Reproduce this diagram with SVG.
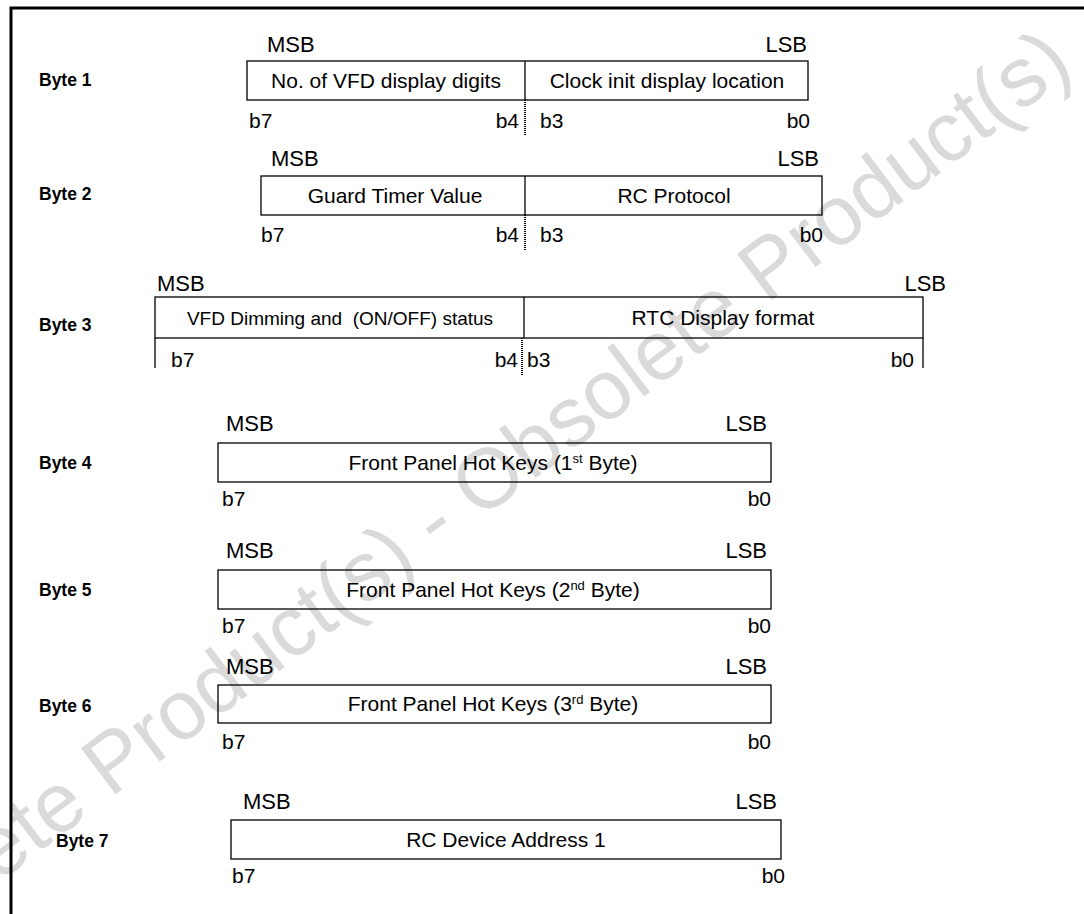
<svg xmlns="http://www.w3.org/2000/svg" width="1084" height="914" viewBox="0 0 1084 914">
<style>
.t{font-family:"Liberation Sans",Arial,sans-serif;fill:#000}
.lbl{font-size:22px}
.bit{font-size:21px}
.box{font-size:21px}
.byte{font-size:17.5px;font-weight:bold}
.r{fill:none;stroke:#000;stroke-width:1.3}
.dv{stroke:#000;stroke-width:1.3}
.dot{stroke:#000;stroke-width:2;stroke-dasharray:1 1}
.wm{font-family:"Liberation Sans",Arial,sans-serif;font-size:84px;fill:#dadada}
</style>
<rect width="1084" height="914" fill="#fff"/>
<g id="watermark">
<text class="wm" x="-177" y="1015" transform="rotate(-37 -177 1015)">Obsolete Product(s) - Obsolete Product(s)</text>
</g>
<g id="frame">
<path d="M11 914 V8 H1084" fill="none" stroke="#000" stroke-width="3"/>
</g>
<g id="byte1">
<text class="t byte" x="39" y="86">Byte 1</text>
<text class="t lbl" x="267" y="52">MSB</text>
<text class="t lbl" x="807" y="52" text-anchor="end">LSB</text>
<rect class="r" x="247" y="61" width="561" height="39"/>
<line class="dv" x1="525" y1="61" x2="525" y2="100"/>
<line class="dot" x1="525" y1="100" x2="525" y2="135"/>
<text class="t box" x="386" y="88" text-anchor="middle">No. of VFD display digits</text>
<text class="t box" x="667" y="88" text-anchor="middle">Clock init display location</text>
<text class="t bit" x="249" y="128">b7</text>
<text class="t bit" x="519" y="128" text-anchor="end">b4</text>
<text class="t bit" x="540" y="128">b3</text>
<text class="t bit" x="810" y="128" text-anchor="end">b0</text>
</g>
<g id="byte2">
<text class="t byte" x="39" y="200">Byte 2</text>
<text class="t lbl" x="271" y="166">MSB</text>
<text class="t lbl" x="819" y="166" text-anchor="end">LSB</text>
<rect class="r" x="261" y="176" width="561" height="39"/>
<line class="dv" x1="525" y1="176" x2="525" y2="215"/>
<line class="dot" x1="525" y1="215" x2="525" y2="250"/>
<text class="t box" x="395" y="203" text-anchor="middle">Guard Timer Value</text>
<text class="t box" x="674" y="203" text-anchor="middle">RC Protocol</text>
<text class="t bit" x="261" y="242">b7</text>
<text class="t bit" x="519" y="242" text-anchor="end">b4</text>
<text class="t bit" x="540" y="242">b3</text>
<text class="t bit" x="823" y="242" text-anchor="end">b0</text>
</g>
<g id="byte3">
<text class="t byte" x="39" y="331">Byte 3</text>
<text class="t lbl" x="157" y="291">MSB</text>
<text class="t lbl" x="946" y="291" text-anchor="end">LSB</text>
<rect class="r" x="155" y="297" width="768" height="41"/>
<line class="dv" x1="524" y1="297" x2="524" y2="338"/>
<line class="dv" x1="155" y1="338" x2="155" y2="368"/>
<line class="dv" x1="923" y1="338" x2="923" y2="368"/>
<line class="dot" x1="522" y1="338" x2="522" y2="376"/>
<text class="t" style="font-size:19px" x="340" y="325" text-anchor="middle" xml:space="preserve">VFD Dimming and  (ON/OFF) status</text>
<text class="t box" x="723" y="325" text-anchor="middle">RTC Display format</text>
<text class="t bit" x="171" y="367">b7</text>
<text class="t bit" x="518" y="367" text-anchor="end">b4</text>
<text class="t bit" x="527" y="367">b3</text>
<text class="t bit" x="914" y="367" text-anchor="end">b0</text>
</g>
<g id="byte4">
<text class="t byte" x="39" y="469">Byte 4</text>
<text class="t lbl" x="226" y="431">MSB</text>
<text class="t lbl" x="767" y="431" text-anchor="end">LSB</text>
<rect class="r" x="218" y="443" width="553" height="39"/>
<text class="t box" x="493" y="470" text-anchor="middle">Front Panel Hot Keys (1<tspan font-size="13" dy="-7">st</tspan><tspan dy="7"> Byte)</tspan></text>
<text class="t bit" x="222" y="506">b7</text>
<text class="t bit" x="771" y="506" text-anchor="end">b0</text>
</g>
<g id="byte5">
<text class="t byte" x="39" y="596">Byte 5</text>
<text class="t lbl" x="226" y="558">MSB</text>
<text class="t lbl" x="767" y="558" text-anchor="end">LSB</text>
<rect class="r" x="218" y="570" width="553" height="39"/>
<text class="t box" x="493" y="597" text-anchor="middle">Front Panel Hot Keys (2<tspan font-size="13" dy="-7">nd</tspan><tspan dy="7"> Byte)</tspan></text>
<text class="t bit" x="222" y="633">b7</text>
<text class="t bit" x="771" y="633" text-anchor="end">b0</text>
</g>
<g id="byte6">
<text class="t byte" x="39" y="712">Byte 6</text>
<text class="t lbl" x="226" y="674">MSB</text>
<text class="t lbl" x="767" y="674" text-anchor="end">LSB</text>
<rect class="r" x="218" y="685" width="553" height="38"/>
<text class="t box" x="493" y="711" text-anchor="middle">Front Panel Hot Keys (3<tspan font-size="13" dy="-7">rd</tspan><tspan dy="7"> Byte)</tspan></text>
<text class="t bit" x="222" y="749">b7</text>
<text class="t bit" x="771" y="749" text-anchor="end">b0</text>
</g>
<g id="byte7">
<text class="t byte" x="56" y="847">Byte 7</text>
<text class="t lbl" x="243" y="809">MSB</text>
<text class="t lbl" x="777" y="809" text-anchor="end">LSB</text>
<rect class="r" x="231" y="820" width="550" height="39"/>
<text class="t box" x="506" y="847" text-anchor="middle">RC Device Address 1</text>
<text class="t bit" x="232" y="883">b7</text>
<text class="t bit" x="785" y="883" text-anchor="end">b0</text>
</g>
</svg>
